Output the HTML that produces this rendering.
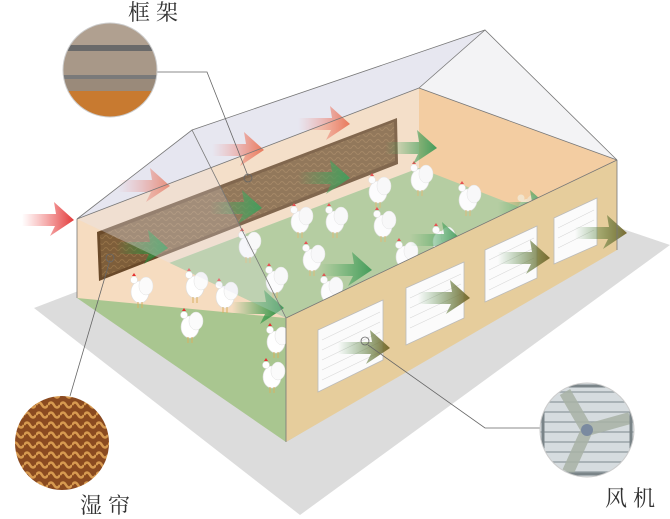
<!DOCTYPE html>
<html><head><meta charset="utf-8">
<style>
html,body{margin:0;padding:0;background:#fff;}
svg{display:block;}
.lbl{font-family:"Liberation Serif","Noto Serif CJK SC",serif;font-size:22px;fill:#333;letter-spacing:6px;}
</style></head>
<body>
<svg width="670" height="519" viewBox="0 0 670 519" xmlns="http://www.w3.org/2000/svg">
<defs>
<linearGradient id="red" x1="0" x2="1" y1="0" y2="0"><stop offset="0" stop-color="#f06060" stop-opacity="0"/><stop offset="1" stop-color="#e23a3a"/></linearGradient>
<linearGradient id="org" x1="0" x2="1"><stop offset="0" stop-color="#f08080" stop-opacity="0"/><stop offset="1" stop-color="#e8603a"/></linearGradient>
<linearGradient id="grn" x1="0" x2="1"><stop offset="0" stop-color="#2a9a40" stop-opacity="0"/><stop offset="1" stop-color="#1f8a3a"/></linearGradient>
<linearGradient id="brn" x1="0" x2="1"><stop offset="0" stop-color="#3a8a40" stop-opacity="0"/><stop offset="1" stop-color="#7a6a30"/></linearGradient>
<pattern id="pad" width="8" height="6" patternUnits="userSpaceOnUse"><rect width="8" height="6" fill="#7e5e3a"/><path d="M0 3 Q2 0 4 3 T8 3" stroke="#957248" fill="none" stroke-width="1"/></pattern>
<pattern id="pad2" width="12" height="10" patternUnits="userSpaceOnUse"><rect width="12" height="10" fill="#8a4a20"/><path d="M0 5 Q3 0 6 5 T12 5" stroke="#d79a50" fill="none" stroke-width="2.5"/></pattern>
<clipPath id="c1"><circle cx="110" cy="70" r="47"/></clipPath>
<clipPath id="c2"><circle cx="62" cy="443" r="47"/></clipPath>
<clipPath id="c3"><circle cx="587" cy="430" r="47"/></clipPath>
<g id="ck"><ellipse cx="0" cy="0" rx="9" ry="11" fill="#fff" stroke="#ddd" stroke-width="0.6"/><ellipse cx="6" cy="-6" rx="7" ry="9" fill="#fbfbfb" stroke="#e2e2e2" stroke-width="0.5"/><circle cx="-6" cy="-12" r="3.5" fill="#fff" stroke="#ddd" stroke-width="0.5"/><path d="M-8 -16 l2 -3 2 3z" fill="#e53030"/><path d="M-2 10 v6 M2 10 v6" stroke="#d9b060" stroke-width="1"/></g>
<g id="ckt"><ellipse cx="0" cy="0" rx="9" ry="11" fill="#f3e2c4"/><ellipse cx="6" cy="-6" rx="7" ry="9" fill="#f1dcba"/><circle cx="-6" cy="-12" r="3.5" fill="#f3e2c4"/></g>
<path id="arw" d="M0 4 L34 4 L32 -8 L52 10 L28 26 L33 16 L0 16 Z"/>
</defs>

<polygon points="34,308 420,160 670,245 300,515" fill="#dcdcdc"/>
<polygon points="77,219 192,130 485,30 419,88" fill="#e6e6f0"/>
<polygon points="77,219 419,88 419,168 77,298" fill="#f6dcc0"/>
<polygon points="419,88 617,160 617,250 419,168" fill="#f5c690"/>
<polygon points="419,88 485,30 617,160" fill="#f4f4f6"/>
<polygon points="77,298 419,168 617,245 286,442" fill="#a9c690"/>
<polygon points="77,219 286,318 77,298" fill="#f6dcc0"/>
<polygon points="97,232 397,118 398,164 99,281" fill="#6a4a2a"/>
<polygon points="100,235 394,122 395,161 102,277" fill="url(#pad)"/>

<use href="#ck" x="378" y="192"/><use href="#ck" x="420" y="180"/><use href="#ck" x="468" y="200"/>
<use href="#ck" x="300" y="222"/><use href="#ck" x="335" y="222"/><use href="#ck" x="383" y="226"/>
<use href="#ck" x="248" y="247"/><use href="#ck" x="312" y="260"/><use href="#ck" x="275" y="282"/>
<use href="#ck" x="405" y="257"/><use href="#ck" x="442" y="242"/><use href="#ck" x="140" y="292"/>
<use href="#ck" x="195" y="287"/><use href="#ck" x="225" y="297"/><use href="#ck" x="190" y="327"/>
<use href="#ck" x="330" y="292"/><use href="#ck" x="276" y="342"/><use href="#ck" x="272" y="377"/>
<use href="#ckt" x="466" y="262"/><use href="#ckt" x="392" y="300"/><use href="#ckt" x="527" y="210"/>

<use href="#arw" x="22" y="210" fill="url(#red)"/>
<use href="#arw" x="118" y="176" fill="url(#org)"/>
<use href="#arw" x="212" y="140" fill="url(#org)"/>
<use href="#arw" x="298" y="114" fill="url(#org)"/>
<use href="#arw" x="385" y="138" fill="url(#grn)"/>
<use href="#arw" x="298" y="168" fill="url(#grn)"/>
<use href="#arw" x="210" y="198" fill="url(#grn)"/>
<use href="#arw" x="116" y="238" fill="url(#grn)"/>
<use href="#arw" x="320" y="260" fill="url(#grn)"/>
<use href="#arw" x="232" y="298" fill="url(#grn)"/>
<use href="#arw" x="410" y="230" fill="url(#grn)"/>
<use href="#arw" x="498" y="198" fill="url(#grn)"/>

<polygon points="286,318 617,160 617,250 286,442" fill="#e6cd9c"/>
<g stroke="#bbb" stroke-width="0.8">
<polygon points="318,330 383,300 383,360 318,392" fill="#fbfbfb"/>
<polygon points="406,288 464,262 464,318 406,345" fill="#fbfbfb"/>
<polygon points="485,250 537,226 537,278 485,302" fill="#fbfbfb"/>
<polygon points="554,218 597,198 597,245 554,264" fill="#fbfbfb"/>
</g>
<g stroke="#d8d8d8" stroke-width="0.6">
<path d="M322 340 L380 312 M322 350 L380 322 M322 360 L380 332 M322 370 L380 342 M322 380 L380 352"/>
<path d="M410 298 L461 274 M410 308 L461 284 M410 318 L461 294 M410 328 L461 304"/>
<path d="M489 260 L534 238 M489 270 L534 248 M489 280 L534 258 M489 290 L534 268"/>
<path d="M558 228 L594 210 M558 238 L594 220 M558 248 L594 230"/>
</g>
<use href="#arw" x="338" y="338" fill="url(#brn)"/>
<use href="#arw" x="418" y="288" fill="url(#brn)"/>
<use href="#arw" x="498" y="248" fill="url(#brn)"/>
<use href="#arw" x="575" y="223" fill="url(#brn)"/>

<polygon points="192,130 485,30 617,160 286,318" fill="#f0f0f6" opacity="0.18"/>
<polygon points="77,219 192,130 286,318" fill="#e6e6f0" opacity="0.35"/>
<g fill="none" stroke="#777" stroke-width="0.8">
<polyline points="77,219 192,130 286,318"/>
<polyline points="192,130 485,30 617,160"/>
<line x1="419" y1="88" x2="485" y2="30"/>
<line x1="77" y1="219" x2="419" y2="88"/>
<line x1="286" y1="318" x2="617" y2="160"/>
<line x1="286" y1="318" x2="286" y2="442"/>
<line x1="77" y1="219" x2="77" y2="298"/>
<line x1="617" y1="160" x2="617" y2="250"/>
<line x1="419" y1="88" x2="617" y2="160"/>
</g>

<g fill="none" stroke="#666" stroke-width="0.8">
<polyline points="157,72 207,72 248,176"/><circle cx="248" cy="178" r="4"/>
<polyline points="70,396 110,260"/><circle cx="110" cy="258" r="4"/>
<circle cx="365" cy="341" r="4"/><polyline points="368,345 485,428 542,428"/>
</g>

<g clip-path="url(#c1)">
<rect x="60" y="20" width="100" height="100" fill="#9a8a7a"/>
<rect x="60" y="20" width="100" height="25" fill="#b0a090"/>
<rect x="60" y="45" width="100" height="6" fill="#6a6a6a"/>
<rect x="60" y="51" width="100" height="24" fill="#a89888"/>
<rect x="60" y="75" width="100" height="4" fill="#7a7a7a"/>
<rect x="60" y="79" width="100" height="12" fill="#9a8a7a"/>
<rect x="60" y="91" width="100" height="30" fill="#c87a30"/>
</g>
<circle cx="110" cy="70" r="47" fill="none" stroke="#ccc"/>
<g clip-path="url(#c2)"><rect x="10" y="390" width="110" height="110" fill="url(#pad2)"/></g>
<g clip-path="url(#c3)">
<rect x="535" y="380" width="110" height="110" fill="#d6dcdf"/>
<g stroke="#9aa4a8" stroke-width="1.5"><path d="M540 392 H640 M540 402 H640 M540 412 H640 M540 422 H640 M540 432 H640 M540 442 H640 M540 452 H640 M540 462 H640 M540 472 H640"/></g>
<g stroke="#a8b2a6" stroke-width="12" opacity="0.85"><path d="M587 430 L565 392 M587 430 L630 418 M587 430 L568 472"/></g>
<circle cx="587" cy="430" r="6" fill="#7a8aa0"/>
<rect x="543" y="386" width="88" height="88" fill="none" stroke="#7a8488" stroke-width="3"/>
</g>
<circle cx="587" cy="430" r="47" fill="none" stroke="#ccc"/>

<text class="lbl" x="128" y="20">框架</text>
<text class="lbl" x="80" y="513">湿帘</text>
<text class="lbl" x="605" y="506">风机</text>
</svg>
</body></html>
